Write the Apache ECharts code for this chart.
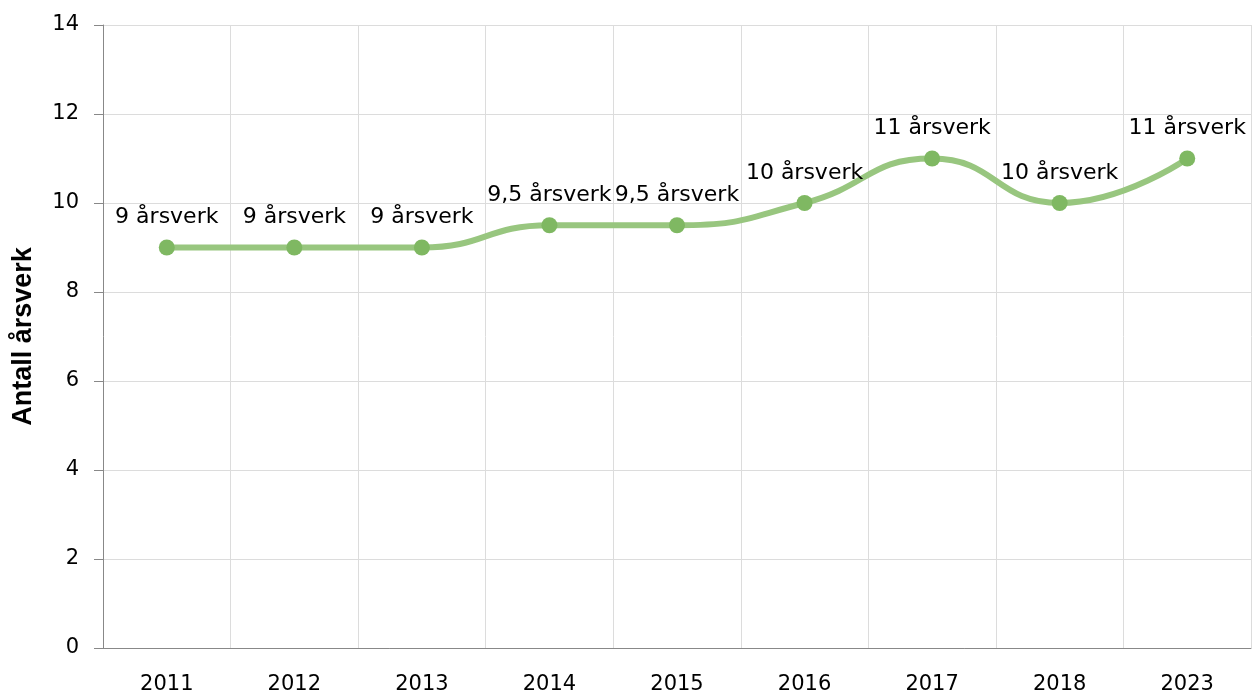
<!DOCTYPE html>
<html>
<head>
<meta charset="utf-8">
<script src="https://cdn.jsdelivr.net/npm/echarts@6/dist/echarts.min.js"></script>
<style>
  html, body { margin: 0; padding: 0; background: #fff; }
  #chart { width: 1252px; height: 695px; }
</style>
</head>
<body>
<div id="chart"></div>
<script>
// data
var years = ['2011', '2012', '2013', '2014', '2015', '2016', '2017', '2018', '2023'];
var aarsverk = [9, 9, 9, 9.5, 9.5, 10, 11, 10, 11];
var yTicks = { min: 0, max: 14, interval: 2 };

var myChart = echarts.init(document.getElementById('chart'));

var option = {
    animation: false,
    textStyle: { fontFamily: 'DejaVu Sans' },
    grid: { left: 103, right: 1, top: 25, bottom: 47 },
    xAxis: {
        type: 'category',
        data: years,
        boundaryGap: true,
        axisLine: { lineStyle: { color: '#888', width: 1 } },
        axisTick: { alignWithLabel: true, length: 9, lineStyle: { color: '#888' } },
        axisLabel: { color: '#000', fontSize: 21, margin: 26, fontFamily: 'DejaVu Sans' },
        splitLine: { show: true, lineStyle: { color: '#dcdcdc' } }
    },
    yAxis: {
        type: 'value',
        min: yTicks.min,
        max: yTicks.max,
        interval: yTicks.interval,
        name: 'Antall årsverk',
        nameLocation: 'middle',
        nameGap: 66,
        nameTextStyle: { fontFamily: 'Liberation Sans', fontWeight: 'bold', fontSize: 27, color: '#000' },
        axisLine: { show: true, lineStyle: { color: '#888' } },
        axisTick: { show: true, length: 9, lineStyle: { color: '#888' } },
        axisLabel: { color: '#000', fontSize: 21, margin: 24, fontFamily: 'DejaVu Sans' },
        splitLine: { lineStyle: { color: '#dcdcdc' } }
    },
    series: [
        {
            type: 'line',
            data: aarsverk,
            smooth: 0.5,
            symbol: 'circle',
            symbolSize: 16,
            lineStyle: { color: '#98c67f', width: 6 },
            itemStyle: { color: '#7fb862' },
            label: {
                show: true,
                position: 'top',
                distance: 11,
                color: '#000',
                fontSize: 22,
                fontFamily: 'DejaVu Sans',
                formatter: function (p) {
                    return String(p.value).replace('.', ',') + ' årsverk';
                }
            }
        }
    ]
};

myChart.setOption(option);
</script>
</body>
</html>
